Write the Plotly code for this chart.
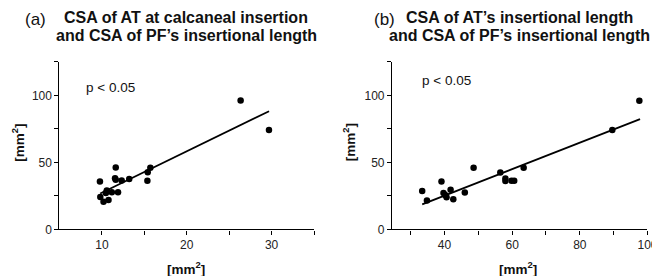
import plotly.graph_objects as go

# Panel (a): CSA of AT at calcaneal insertion (x) vs CSA of PF's insertional length (y)
a_x = [9.77, 9.81, 10.19, 10.78, 10.47, 10.58, 11.17, 11.63, 11.55, 11.63, 11.90,
       12.33, 13.22, 15.40, 15.36, 15.71, 26.35, 29.69]
a_y = [35.8, 24.1, 20.7, 21.9, 27.2, 29.0, 27.7, 46.2, 38.2, 37.0, 27.7,
       36.5, 37.5, 42.6, 36.3, 46.0, 96.1, 74.2]
a_fit_x = [9.8, 29.7]
a_fit_y = [26.8, 88.1]

# Panel (b): CSA of AT's insertional length (x) vs CSA of PF's insertional length (y)
b_x = [33.4, 34.8, 39.1, 39.7, 40.2, 40.6, 41.8, 42.6, 46.0, 48.6, 56.5, 58.0,
       58.0, 59.8, 60.6, 63.4, 89.6, 97.6]
b_y = [28.6, 21.5, 35.8, 27.1, 25.7, 24.0, 29.5, 22.5, 27.6, 46.0, 42.4, 38.0,
       36.1, 36.3, 36.3, 46.0, 74.1, 95.9]
b_fit_x = [33.4, 97.8]
b_fit_y = [18.6, 82.3]

a_xticks = [10, 15, 20, 25, 30, 35]
a_xlabels = ["10", "", "20", "", "30", ""]
b_xticks = [30, 40, 50, 60, 70, 80, 90, 100]
b_xlabels = ["", "40", "", "60", "", "80", "", "100"]
yticks = [0, 25, 50, 75, 100, 125]
ylabels = ["0", "", "50", "", "100", ""]

title_lines = [["CSA of AT at calcaneal insertion", "and CSA of PF\u2019s insertional length"],
               ["CSA of AT\u2019s insertional length", "and CSA of PF\u2019s insertional length"]]
panel_tags = ["(a)", "(b)"]
p_text = "p < 0.05"
unit = "[mm<sup>2</sup>]"

FONT = "Liberation Sans, Arial, sans-serif"
fig = go.Figure()

marker = dict(color="black", size=6.5)
line = dict(color="black", width=1.8)
fig.add_trace(go.Scatter(x=a_x, y=a_y, mode="markers", marker=marker, xaxis="x", yaxis="y", showlegend=False))
fig.add_trace(go.Scatter(x=a_fit_x, y=a_fit_y, mode="lines", line=line, xaxis="x", yaxis="y", showlegend=False))
fig.add_trace(go.Scatter(x=b_x, y=b_y, mode="markers", marker=marker, xaxis="x2", yaxis="y2", showlegend=False))
fig.add_trace(go.Scatter(x=b_fit_x, y=b_fit_y, mode="lines", line=line, xaxis="x2", yaxis="y2", showlegend=False))

axis_common = dict(showline=True, linecolor="black", linewidth=1.3, ticks="outside",
                   ticklen=4, tickwidth=1.3, tickcolor="black", showgrid=False, zeroline=False,
                   tickfont=dict(family=FONT, size=12, color="#222"))

ydom = [0.177, 0.80]
fig.update_layout(
    width=660, height=276, margin=dict(l=0, r=0, t=0, b=0),
    plot_bgcolor="white", paper_bgcolor="white",
    xaxis=dict(domain=[0.0792, 0.4708], range=[5, 35], tickmode="array", tickvals=a_xticks,
               ticktext=a_xlabels, anchor="y", **axis_common),
    yaxis=dict(domain=ydom, range=[0, 125], tickmode="array", tickvals=yticks,
               ticktext=ylabels, anchor="x", **axis_common),
    xaxis2=dict(domain=[0.5909, 0.9838], range=[24.5, 100], tickmode="array", tickvals=b_xticks,
                ticktext=b_xlabels, anchor="y2", **axis_common),
    yaxis2=dict(domain=ydom, range=[0, 125], tickmode="array", tickvals=yticks,
                ticktext=ylabels, anchor="x2", **axis_common),
)

ann = []
# titles (two lines each)
for cx, lines in zip([181 / 660, 519 / 660], title_lines):
    for ly, txt in zip([10, 28], lines):
        ann.append(dict(xref="paper", yref="paper", x=cx, y=(276 - ly) / 276, yanchor="middle",
                        xanchor="center", text="<b>" + txt + "</b>", showarrow=False,
                        font=dict(family=FONT, size=16, color="#111")))
for tx, tag in zip([15 / 660, 370 / 660], panel_tags):
    ann.append(dict(xref="paper", yref="paper", x=tx, y=(276 - 12) / 276, yanchor="middle", xanchor="left",
                    text=tag, showarrow=False, font=dict(family=FONT, size=17, color="#111")))
# p-values
ann.append(dict(xref="x", yref="y", x=7.9, y=106, xanchor="left", yanchor="middle", text=p_text,
                showarrow=False, font=dict(family=FONT, size=13.5, color="#111")))
ann.append(dict(xref="x2", yref="y2", x=32.9, y=111, xanchor="left", yanchor="middle", text=p_text,
                showarrow=False, font=dict(family=FONT, size=13.5, color="#111")))
# axis titles
for cx in [181 / 660, 518 / 660]:
    ann.append(dict(xref="paper", yref="paper", x=cx, y=(276 - 267) / 276, xanchor="center", yanchor="middle",
                    text="<b>" + unit + "</b>", showarrow=False, font=dict(family=FONT, size=13.5, color="#111")))
for cx in [9.5 / 660, 346 / 660]:
    ann.append(dict(xref="paper", yref="paper", x=cx, y=(276 - 138) / 276, xanchor="center", yanchor="middle",
                    text="<b>" + unit + "</b>", textangle=-90, showarrow=False,
                    font=dict(family=FONT, size=13.5, color="#111")))
fig.update_layout(annotations=ann)

fig.write_html("out.html")
